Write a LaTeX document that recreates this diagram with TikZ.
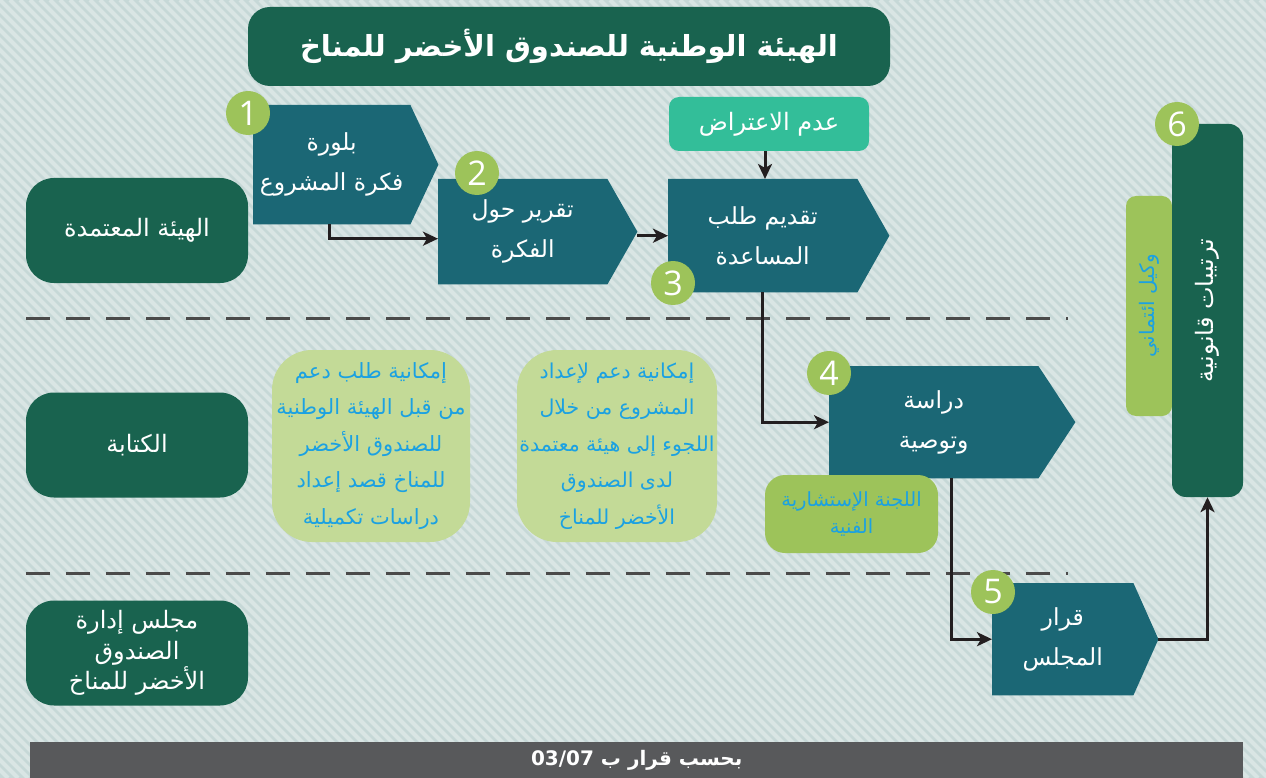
\documentclass[tikz,border=0pt]{standalone}
\usepackage{fontspec}
\setmainfont{DejaVu Sans}
\newfontfamily\arabicfont[Script=Arabic]{DejaVu Sans}
\newfontfamily\numfont{Open Sans}
\TeXXeTstate=1
\usetikzlibrary{arrows.meta,calc}
\newcommand{\ar}[1]{\beginR #1\endR}
\newcommand{\fs}[2]{\fontsize{#1}{#2}\selectfont}
\definecolor{bgc}{HTML}{C6D8D7}
\definecolor{stripec}{HTML}{D9E5E4}
\definecolor{dkgreen}{HTML}{19634F}
\definecolor{tealc}{HTML}{1B6775}
\definecolor{circg}{HTML}{9DC35A}
\definecolor{paleg}{HTML}{C3DA97}
\definecolor{objc}{HTML}{33BE99}
\definecolor{bluet}{HTML}{1BA1E2}
\definecolor{barc}{HTML}{58595B}
\definecolor{linec}{HTML}{231F20}
\definecolor{dashc}{HTML}{4A4A4A}
\pgfdeclarelayer{bglayer}
\pgfdeclarelayer{shapelayer}
\pgfsetlayers{bglayer,shapelayer,main}
\begin{document}
\begin{tikzpicture}[x=1pt,y=-1pt,
  stepbody/.style={anchor=north west, inner sep=0pt, text=white, align=center, font=\arabicfont\fs{23.5}{40}},
  lane/.style={rounded corners=28pt, fill=dkgreen, text=white, align=center, minimum width=222pt, minimum height=105pt, inner sep=0pt, font=\arabicfont\fs{24}{30.5}},
  num/.style={circle, fill=circg, text=white, minimum size=44pt, inner sep=0pt, font=\numfont\fs{34}{34}},
  pale/.style={rounded corners=40pt, fill=paleg, text=bluet, align=center, minimum width=198pt, minimum height=192pt, inner sep=0pt, font=\arabicfont\fs{21}{36.5}},
  conn/.style={draw=linec, line width=3pt, -{Stealth[length=15pt,width=14pt,inset=4pt]}},
  sep/.style={draw=dashc, line width=3pt, dash pattern=on 24pt off 16pt}
]
\useasboundingbox (0,0) rectangle (1266,778);
\begin{pgfonlayer}{bglayer}
\fill[bgc] (0,0) rectangle (1266,778);
\begin{scope}
\clip (0,0) rectangle (1266,778);
\foreach \i in {-80,...,128} \draw[stripec, line width=4pt] (\i*10,0) -- ++(778,778);
\end{scope}
\end{pgfonlayer}

% separators
\draw[sep] (26,318) -- (1068,318);
\draw[sep] (26,573) -- (1068,573);

% title
\node[rounded corners=22pt, fill=dkgreen, text=white, minimum width=642pt, minimum height=79pt, inner sep=0pt, font=\arabicfont\bfseries\fs{29}{36}] (title) at (569,46.5) {\ar{الهيئة الوطنية للصندوق الأخضر للمناخ}};

% lanes
\node[lane] (l1) at (137,230.5) {\ar{الهيئة المعتمدة}};
\node[lane] (l2) at (137,445) {\ar{الكتابة}};
\node[lane] (l3) at (137,653) {\ar{مجلس إدارة}\\\ar{الصندوق}\\\ar{الأخضر للمناخ}};

% steps
\node[stepbody, minimum width=157pt, minimum height=119pt] (s1) at (253,105) {\ar{بلورة}\\\ar{فكرة المشروع}};
\node[stepbody, minimum width=169pt, minimum height=105pt] (s2) at (438,179) {\ar{تقرير حول}\\\ar{الفكرة}};
\node[stepbody, minimum width=189pt, minimum height=113pt] (s3) at (668,179) {\ar{تقديم طلب}\\\ar{المساعدة}};
\node[stepbody, minimum width=209pt, minimum height=112pt] (s4) at (829,366) {\ar{دراسة}\\\ar{وتوصية}};
\node[stepbody, minimum width=141pt, minimum height=112pt] (s5) at (992,583) {\ar{قرار}\\\ar{المجلس}};
\begin{pgfonlayer}{shapelayer}
\foreach \n/\t in {s1/28,s2/30,s3/32,s4/37,s5/25}
  \fill[tealc] (\n.north west) -- (\n.north east) -- ([xshift=\t pt]\n.east) -- (\n.south east) -- (\n.south west) -- cycle;
\end{pgfonlayer}
\coordinate (s2t) at ([xshift=30pt]s2.east);
\coordinate (s5t) at ([xshift=25pt]s5.east);

% objection
\node[rounded corners=10pt, fill=objc, text=white, minimum width=200pt, minimum height=54pt, inner sep=0pt, font=\arabicfont\fs{24}{28}] (obj) at (769,124) {\ar{عدم الاعتراض}};

% committee
\node[rounded corners=20pt, fill=circg, text=bluet, align=center, minimum width=173pt, minimum height=78pt, inner sep=0pt, font=\arabicfont\fs{19.5}{27}] (com) at (851.5,514) {\ar{اللجنة الإستشارية}\\\ar{الفنية}};

% pale boxes
\node[pale] (pa) at (371,446) {\ar{إمكانية طلب دعم}\\\ar{من قبل الهيئة الوطنية}\\\ar{للصندوق الأخضر}\\\ar{للمناخ قصد إعداد}\\\ar{دراسات تكميلية}};
\node[pale, minimum width=200pt, font=\arabicfont\fs{20.5}{36.5}] (pb) at (617,446) {\ar{إمكانية دعم لإعداد}\\\ar{المشروع من خلال}\\\ar{اللجوء إلى هيئة معتمدة}\\\ar{لدى الصندوق}\\\ar{الأخضر للمناخ}};

% trustee and legal
\node[rounded corners=10pt, fill=circg, minimum width=46pt, minimum height=220pt, inner sep=0pt] (tr) at (1149,306) {};
\node[rotate=90, text=bluet, font=\arabicfont\fs{20}{24}] (trt) at (tr.center) {\ar{وكيل ائتماني}};
\node[rounded corners=14pt, fill=dkgreen, minimum width=71pt, minimum height=373pt, inner sep=0pt] (s6) at (1207.5,310.5) {};
\node[rotate=90, text=white, font=\arabicfont\fs{24}{28}] (s6t) at (s6.center) {\ar{ترتيبات قانونية}};

% numbers
\node[num] (c1) at (248,113) {1};
\node[num] (c2) at (477,173) {2};
\node[num] (c3) at (673,283) {3};
\node[num] (c4) at (829,373) {4};
\node[num] (c5) at (993,592) {5};
\node[num] (c6) at (1177,124) {6};

% connectors
\draw[conn] ([xshift=-2pt]s1.south) |- ([yshift=-7pt]s2.west);
\draw[conn] (s2t |- s3.west) -- (s3.west);
\draw[conn] ([xshift=-4pt]obj.south) -- ([xshift=-4pt]obj.south |- s3.north);
\draw[conn] (s3.south) |- (s4.west);
\draw[conn] ([xshift=18pt]s4.south) |- (s5.west);
\draw[conn] (s5t) -| (s6.south);

% bottom bar
\node[fill=barc, text=white, minimum width=1213pt, minimum height=36pt, inner sep=0pt, anchor=north west, font=\arabicfont\bfseries\fs{20}{24}] (bar) at (30,742) {\ar{بحسب قرار ب \beginL 03/07\endL}};
\end{tikzpicture}
\end{document}
